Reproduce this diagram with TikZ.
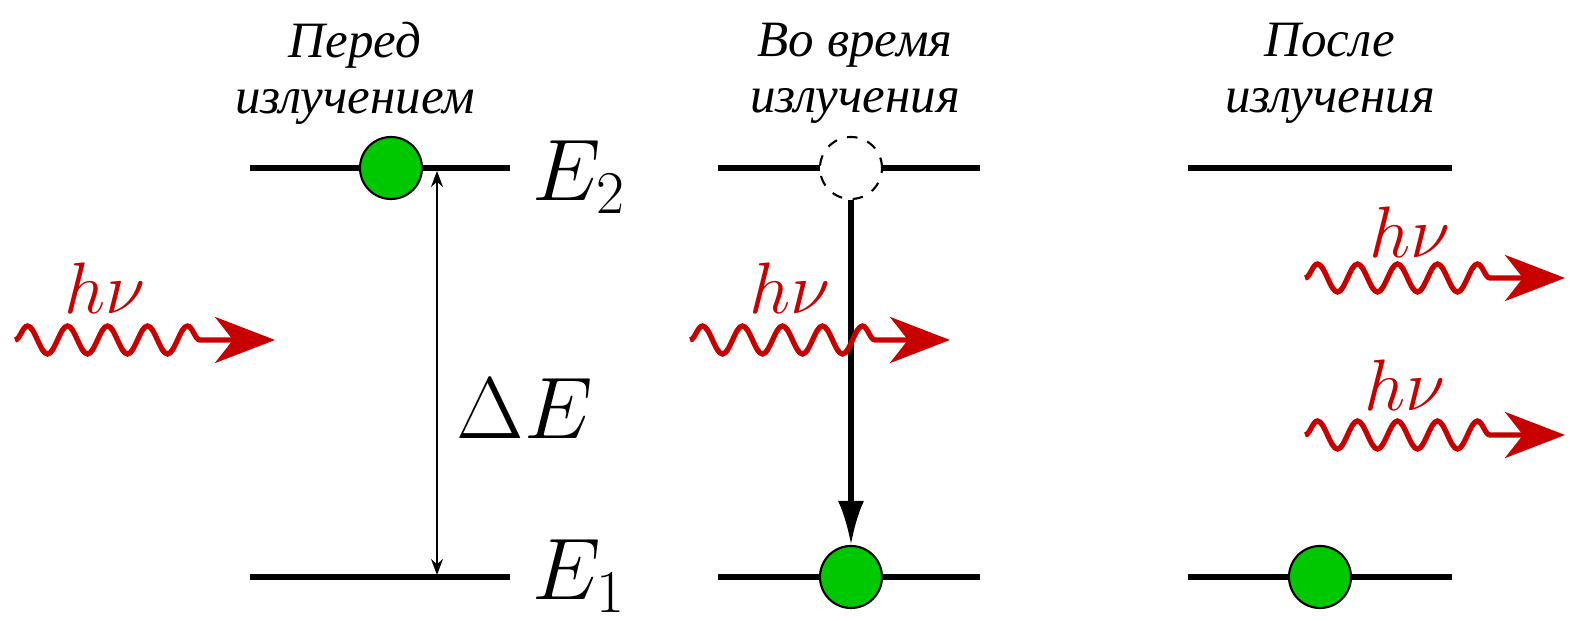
\documentclass[tikz,border=0pt]{standalone}
\usepackage{fontspec}
\usepackage{tikz}
\usetikzlibrary{positioning,arrows.meta,decorations.pathmorphing}
\newfontfamily\rufont{Liberation Serif}
\definecolor{phred}{RGB}{200,0,0}
\definecolor{elgreen}{RGB}{0,200,0}
\tikzset{
  level/.style={draw=black, line width=1.8pt},
  electron/.style={circle, draw=black, line width=0.6pt, fill=elgreen,
                   minimum size=0.62cm, inner sep=0pt},
  hole/.style={circle, draw=black, dashed, line width=0.6pt, fill=white,
               minimum size=0.62cm, inner sep=0pt},
  photon/.style={draw=phred, line width=1.5pt,
                 -{Stealth[length=6mm,width=4.6mm,inset=1.8mm]},
                 decorate, decoration={snake, segment length=0.40cm,
                 amplitude=0.14cm, post length=0.68cm}},
  hnu/.style={text=phred, font=\fontsize{20}{24}\selectfont},
  title/.style={font=\rufont\itshape\fontsize{14.5}{16}\selectfont, align=center},
  elabel/.style={font=\fontsize{26}{30}\selectfont, anchor=west, inner sep=0pt},
}
\begin{document}
\begin{tikzpicture}[x=1cm, y=1cm]
\useasboundingbox (0,0) rectangle (15.72,6.21);
\def\yb{4.53} \def\ya{0.44}

% column titles
\node[title] (t1) at (3.55,5.48) {Перед\\излучением};
\node[title] (t2) at (8.55,5.48) {Во время\\излучения};
\node[title] (t3) at (13.30,5.48) {После\\излучения};

% energy levels
\foreach \n/\xa/\xb in {a/2.50/5.10, b/7.18/9.80, c/11.88/14.52} {
  \coordinate (\n2l) at (\xa,\yb); \coordinate (\n2r) at (\xb,\yb);
  \coordinate (\n1l) at (\xa,\ya); \coordinate (\n1r) at (\xb,\ya);
  \draw[level] (\n2l) -- (\n2r);
  \draw[level] (\n1l) -- (\n1r);
}
\node[elabel] (e2) at (5.32,4.44) {$E_2$};
\node[elabel] (e1) at (5.32,0.45) {$E_1$};

% before: electron up, energy gap
\node[electron] (ea) at (3.91,\yb) {};
\coordinate (dtop) at (4.37,4.50);
\coordinate (dbot) at (4.37,0.46);
\draw[line width=0.5pt, {Stealth[length=1.6mm,width=1.2mm]}-{Stealth[length=1.6mm,width=1.2mm]}] (dtop) -- (dbot);
\node[font=\fontsize{27}{30}\selectfont] (de) at (5.25,2.12) {$\Delta E$};

% during: transition down
\node[hole] (hb) at (8.51,\yb) {};
\node[electron] (eb) at (8.51,\ya) {};
\draw[line width=1.5pt, -{Latex[length=4.4mm,width=2.6mm]}] (hb) -- (eb);

% after
\node[electron] (ec) at (13.20,\ya) {};

% photons
\coordinate (p1s) at (0.15,2.81); \coordinate (p1e) at (2.75,2.81);
\coordinate (p2s) at (6.90,2.81); \coordinate (p2e) at (9.50,2.81);
\coordinate (p3s) at (13.05,3.43); \coordinate (p3e) at (15.65,3.43);
\coordinate (p4s) at (13.05,1.86); \coordinate (p4e) at (15.65,1.86);
\draw[photon] (p1s) -- (p1e);
\draw[photon] (p2s) -- (p2e);
\draw[photon] (p3s) -- (p3e);
\draw[photon] (p4s) -- (p4e);
\node[hnu] (h1) at (1.05,3.33) {$h\nu$};
\node[hnu] (h2) at (7.90,3.33) {$h\nu$};
\node[hnu] (h3) at (14.10,3.89) {$h\nu$};
\node[hnu] (h4) at (14.05,2.36) {$h\nu$};
\end{tikzpicture}
\end{document}
